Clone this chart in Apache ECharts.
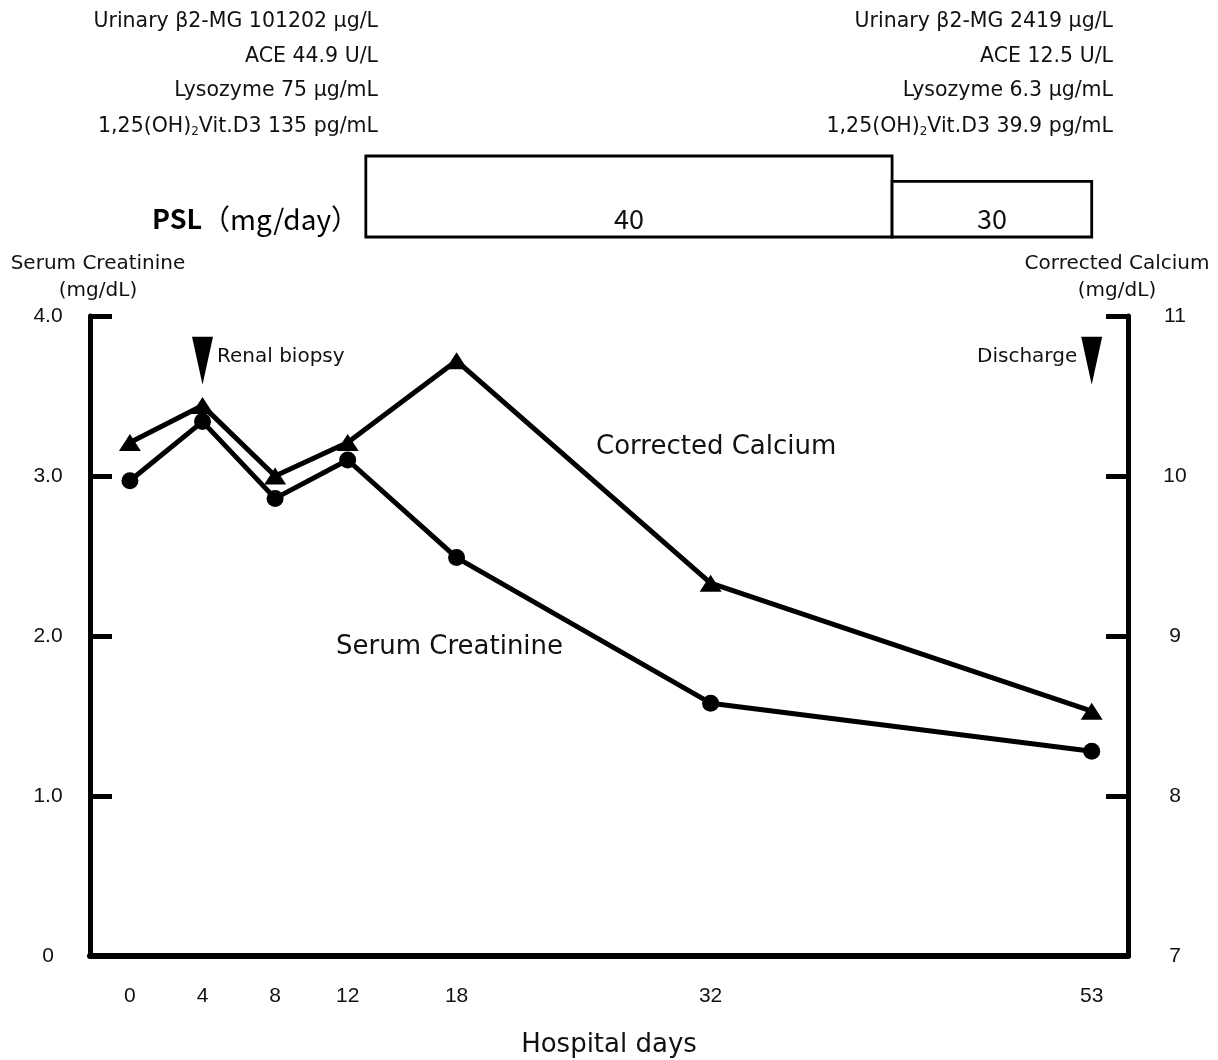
<!DOCTYPE html>
<html><head><meta charset="utf-8">
<script src="https://cdn.jsdelivr.net/npm/echarts@6/dist/echarts.min.js"></script>
<style>html,body{margin:0;padding:0;background:#fff}#c{width:1218px;height:1060px}</style>
</head><body><div id="c"></div>
<script>
// ---- data ----
const days = [0, 4, 8, 12, 18, 32, 53];
const dayTickLabels = [0, 4, 8, 12, 18, 32, 53];
const creatinine = [2.97, 3.34, 2.86, 3.10, 2.49, 1.58, 1.28];
const calcium = [10.21, 10.44, 10.0, 10.21, 10.72, 9.33, 8.53];
const pslStart = [13, 42];
const pslEnd = [42, 53];
const pslDose = [40, 30];
const eventDays = [4, 53];
const eventNames = ['Renal biopsy', 'Discharge'];
const labsBefore = ['Urinary β2-MG 101202 μg/L', 'ACE 44.9 U/L', 'Lysozyme 75 μg/mL', '1,25(OH){s|2}Vit.D3 135 pg/mL'];
const labsAfter = ['Urinary β2-MG 2419 μg/L', 'ACE 12.5 U/L', 'Lysozyme 6.3 μg/mL', '1,25(OH){s|2}Vit.D3 39.9 pg/mL'];

// ---- style constants ----
const FONT = '"DejaVu Sans", sans-serif';
const TICKFONT = '"Liberation Sans", Arial, sans-serif';
const CJK = '"Noto Sans CJK JP", "Noto Sans", sans-serif';
const MARKER_Y = 3.72;
const PSL_MIN = 8, PSL_MAX = 40;

const chart = echarts.init(document.getElementById('c'), null, {renderer: 'canvas'});

const labGraphics = [];
const labY = [22, 57, 91, 127];
function addLabs(lines, xRight) {
  lines.forEach((t, i) => {
    labGraphics.push({
      type: 'text', x: xRight, y: labY[i],
      style: {
        text: t, align: 'right', verticalAlign: 'middle',
        font: '20.5px ' + FONT, fill: '#111',
        rich: { s: { fontSize: 12, fontFamily: FONT, verticalAlign: 'bottom', padding: [8, 0, 0, 0] } }
      }
    });
  });
}
addLabs(labsBefore, 378);
addLabs(labsAfter, 1113);

const axisLineStyle = {color: '#000', width: 5};

const option = {
  backgroundColor: '#fff',
  animation: false,
  grid: [
    {left: 90, right: 90, top: 316, bottom: 104, outerBoundsMode: 'none', containLabel: false},
    {left: 90, right: 90, top: 156, height: 81, outerBoundsMode: 'none', containLabel: false}
  ],
  xAxis: [
    {
      type: 'value', gridIndex: 0, min: -2.2, max: 55,
      axisLine: {show: true, onZero: false, lineStyle: {color: '#000', width: 6}},
      axisTick: {show: false},
      splitLine: {show: false},
      axisLabel: {customValues: dayTickLabels, margin: 30, fontSize: 21, fontFamily: TICKFONT, color: '#111'},
      name: 'Hospital days', nameLocation: 'middle', nameGap: 76,
      nameTextStyle: {fontSize: 26, fontFamily: FONT, color: '#111'}
    },
    {type: 'value', gridIndex: 1, min: -2.2, max: 55, show: false}
  ],
  yAxis: [
    {
      type: 'value', gridIndex: 0, position: 'left', min: 0, max: 4, interval: 1,
      axisLine: {show: true, onZero: false, lineStyle: axisLineStyle},
      axisTick: {show: true, inside: true, length: 22, lineStyle: {color: '#000', width: 5}},
      splitLine: {show: false},
      axisLabel: {align: 'center', margin: 42, fontSize: 21, fontFamily: TICKFONT, color: '#111',
        formatter: v => v === 0 ? '0' : v.toFixed(1)}
    },
    {
      type: 'value', gridIndex: 0, position: 'right', min: 7, max: 11, interval: 1,
      axisLine: {show: true, onZero: false, lineStyle: axisLineStyle},
      axisTick: {show: true, inside: true, length: 22, lineStyle: {color: '#000', width: 5}},
      splitLine: {show: false},
      axisLabel: {align: 'center', margin: 47, fontSize: 21, fontFamily: TICKFONT, color: '#111'}
    },
    {type: 'value', gridIndex: 1, min: PSL_MIN, max: PSL_MAX, show: false}
  ],
  series: [
    {
      name: 'Serum Creatinine', type: 'line', xAxisIndex: 0, yAxisIndex: 0,
      data: days.map((d, i) => [d, creatinine[i]]),
      symbol: 'circle', symbolSize: 17,
      lineStyle: {color: '#000', width: 5},
      itemStyle: {color: '#000'}, z: 3
    },
    {
      name: 'Corrected Calcium', type: 'line', xAxisIndex: 0, yAxisIndex: 1,
      data: days.map((d, i) => [d, calcium[i]]),
      symbol: 'triangle', symbolSize: [22, 17],
      lineStyle: {color: '#000', width: 5},
      itemStyle: {color: '#000'}, z: 3
    },
    {
      name: 'Events', type: 'scatter', xAxisIndex: 0, yAxisIndex: 0,
      symbol: 'triangle', symbolRotate: 180, symbolSize: [21, 48],
      itemStyle: {color: '#000', opacity: 1},
      data: eventDays.map((d, i) => ({
        value: [d, MARKER_Y],
        label: {
          show: true, formatter: eventNames[i],
          position: i === 0 ? 'right' : 'left', distance: 4, offset: [0, -4],
          fontSize: 20, fontFamily: FONT, color: '#111', opacity: 1
        }
      })), z: 4
    },
    {
      name: 'PSL', type: 'custom', xAxisIndex: 1, yAxisIndex: 2,
      data: pslDose.map((d, i) => [pslStart[i], pslEnd[i], d]),
      encode: {x: [0, 1], y: 2},
      renderItem: function (params, api) {
        const tl = api.coord([api.value(0), api.value(2)]);
        const br = api.coord([api.value(1), PSL_MIN]);
        return {
          type: 'group', children: [
            {type: 'rect', shape: {x: tl[0], y: tl[1], width: br[0] - tl[0], height: br[1] - tl[1]},
              style: {fill: '#fff', stroke: '#000', lineWidth: 2.8}},
            {type: 'text', style: {text: String(api.value(2)), x: (tl[0] + br[0]) / 2, y: br[1] - 18,
              align: 'center', verticalAlign: 'middle', font: '27px ' + CJK, fill: '#111'}}
          ]
        };
      }
    }
  ],
  graphic: labGraphics.concat([
    {type: 'text', x: 98, y: 250, style: {text: 'Serum Creatinine\n(mg/dL)', align: 'center', verticalAlign: 'top',
      font: '20px ' + FONT, lineHeight: 27, fill: '#111'}},
    {type: 'text', x: 1117, y: 250, style: {text: 'Corrected Calcium\n(mg/dL)', align: 'center', verticalAlign: 'top',
      font: '20px ' + FONT, lineHeight: 27, fill: '#111'}},
    {type: 'text', x: 596, y: 447, style: {text: 'Corrected Calcium', align: 'left', verticalAlign: 'middle',
      font: '26px ' + FONT, fill: '#111'}},
    {type: 'text', x: 336, y: 647, style: {text: 'Serum Creatinine', align: 'left', verticalAlign: 'middle',
      font: '26px ' + FONT, fill: '#111'}},
    {type: 'text', x: 359, y: 219, style: {text: '{b|PSL}{n|（mg/day）}', align: 'right', verticalAlign: 'middle',
      rich: {
        b: {fontSize: 27, fontWeight: 'bold', fontFamily: CJK, color: '#111'},
        n: {fontSize: 28, fontFamily: CJK, color: '#111'}
      }}}
  ])
};
chart.setOption(option);
</script>
</body></html>
